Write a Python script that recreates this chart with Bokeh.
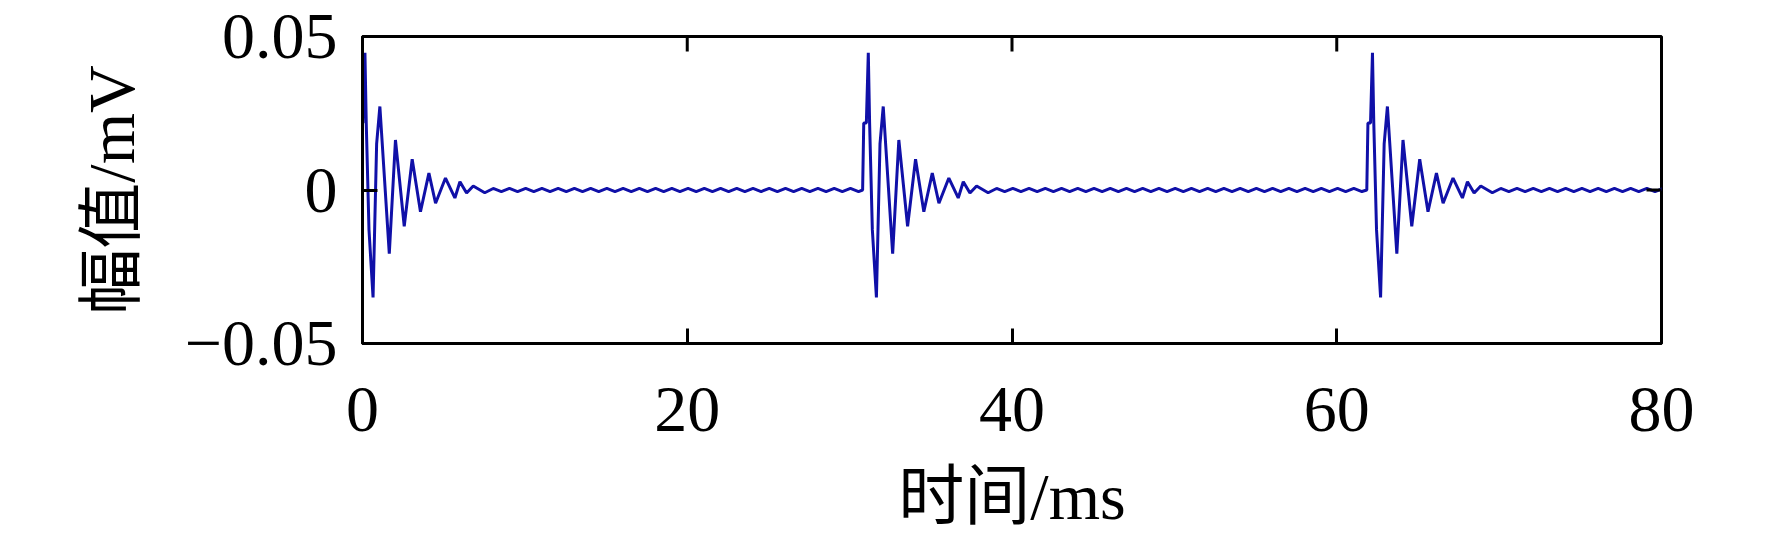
import numpy as np
from bokeh.plotting import figure
from bokeh.models import Range1d, FixedTicker, CustomJSTickFormatter
from bokeh.embed import file_html
from bokeh.resources import INLINE

# ---- data ----
x_ticks = [0, 20, 40, 60, 80]
y_ticks = [-0.05, 0, 0.05]
x_label = "时间/ms"
y_label = "幅值/mV"

# times (ms) of the main positive spike of each of the three bursts
pulse_peak_ms = [0.15, 31.15, 62.2]

# shape of one burst: time offset from the main spike (ms) and amplitude (mV)
burst_offset_ms = [-0.35, -0.28, -0.12, 0.0, 0.08, 0.25, 0.5, 0.72, 0.92, 1.5,
                   1.88, 2.42, 2.91, 3.42, 3.94, 4.35, 4.96, 5.54, 5.85, 6.26,
                   6.67, 7.38]
burst_mv = [0.0, 0.0218, 0.0218, 0.0447, 0.022, -0.013, -0.035, 0.015, 0.0272, -0.0207,
            0.0163, -0.0118, 0.0100, -0.0071, 0.0055, -0.0043, 0.0039, -0.0026, 0.0027, -0.0010,
            0.0013, -0.0009]

# residual ripple after each burst, sampled every 0.5 ms from 7.9 ms after the spike
ripple_start_ms = 7.9
ripple_step_ms = 0.5
ripple_mv = [0.0005, -0.0005, 0.0005, -0.0005, 0.0005, -0.0005, 0.0005, -0.0005,
             0.0005, -0.0005, 0.0005, -0.0005, 0.0005, -0.0005, 0.0005, -0.0005,
             0.0005, -0.0005, 0.0005, -0.0005, 0.0005, -0.0005, 0.0005, -0.0005,
             0.0005, -0.0005, 0.0005, -0.0005, 0.0005, -0.0005, 0.0005, -0.0005,
             0.0005, -0.0005, 0.0005, -0.0005, 0.0005, -0.0005, 0.0005, -0.0005,
             0.0005, -0.0005, 0.0005, -0.0005, 0.0005, -0.0005]

# ---- assemble the signal ----
ripple_offset_ms = ripple_start_ms + ripple_step_ms * np.arange(len(ripple_mv))
shape_t = np.concatenate([np.array(burst_offset_ms), ripple_offset_ms])
shape_v = np.concatenate([np.array(burst_mv), np.array(ripple_mv)])
t_all = np.concatenate([tp + shape_t for tp in pulse_peak_ms])
v_all = np.concatenate([shape_v for _ in pulse_peak_ms])
order = np.argsort(t_all, kind="stable")
t_all = t_all[order]
v_all = v_all[order]

LATIN = "Liberation Serif"
MIXED = "Liberation Serif, Noto Sans CJK SC"

W, H = 1772, 536
BL, BR, BT, BB = 362, 111, 36, 193
X0, X1 = 0, 80
Y0, Y1 = -0.05, 0.05

p = figure(width=W, height=H, output_backend="svg", toolbar_location=None,
           x_range=Range1d(X0, X1), y_range=Range1d(Y0, Y1),
           min_border_left=BL, min_border_right=BR, min_border_top=BT,
           min_border_bottom=BB, background_fill_color="white",
           border_fill_color="white")

p.line(t_all, v_all, line_color="#1010a8", line_width=3)

p.xgrid.visible = False
p.ygrid.visible = False
p.outline_line_color = "black"
p.outline_line_width = 3
p.outline_line_alpha = 1.0

yfmt = CustomJSTickFormatter(code="""
if (Math.abs(tick) < 1e-12) { return "0"; }
if (tick < 0) { return "\u2212" + (-tick).toFixed(2); }
return tick.toFixed(2);
""")

def style_axis(ax):
    ax.axis_line_color = "black"
    ax.axis_line_width = 3
    ax.major_tick_line_color = "black"
    ax.major_tick_line_width = 3
    ax.major_tick_in = 15
    ax.major_tick_out = 0
    ax.minor_tick_line_color = None
    ax.major_label_text_font = LATIN
    ax.major_label_text_font_size = "66px"
    ax.major_label_text_color = "black"
    ax.axis_label_text_font = MIXED
    ax.axis_label_text_font_size = "66px"
    ax.axis_label_text_font_style = "normal"
    ax.axis_label_text_color = "black"

xax = p.xaxis[0]
xax.ticker = FixedTicker(ticks=x_ticks)
style_axis(xax)
xax.axis_label = x_label
xax.major_label_standoff = 44
xax.axis_label_standoff = 26

yax = p.yaxis[0]
yax.ticker = FixedTicker(ticks=y_ticks)
yax.formatter = yfmt
style_axis(yax)
yax.axis_label = y_label
yax.major_label_standoff = 25
yax.axis_label_standoff = 34

# mirrored inward ticks on the top and right edges of the box (15 px long)
frame_w = W - BL - BR
frame_h = H - BT - BB
tick_len_y = 15 * (Y1 - Y0) / frame_h
tick_len_x = 15 * (X1 - X0) / frame_w
top_x = [v for v in x_ticks if X0 < v < X1]
p.segment(x0=top_x, y0=[Y1] * len(top_x), x1=top_x, y1=[Y1 - tick_len_y] * len(top_x),
          line_color="black", line_width=3)
right_y = [v for v in y_ticks if Y0 < v < Y1]
p.segment(x0=[X1] * len(right_y), y0=right_y, x1=[X1 - tick_len_x] * len(right_y), y1=right_y,
          line_color="black", line_width=3)

open("out.html", "w").write(file_html(p, INLINE))
